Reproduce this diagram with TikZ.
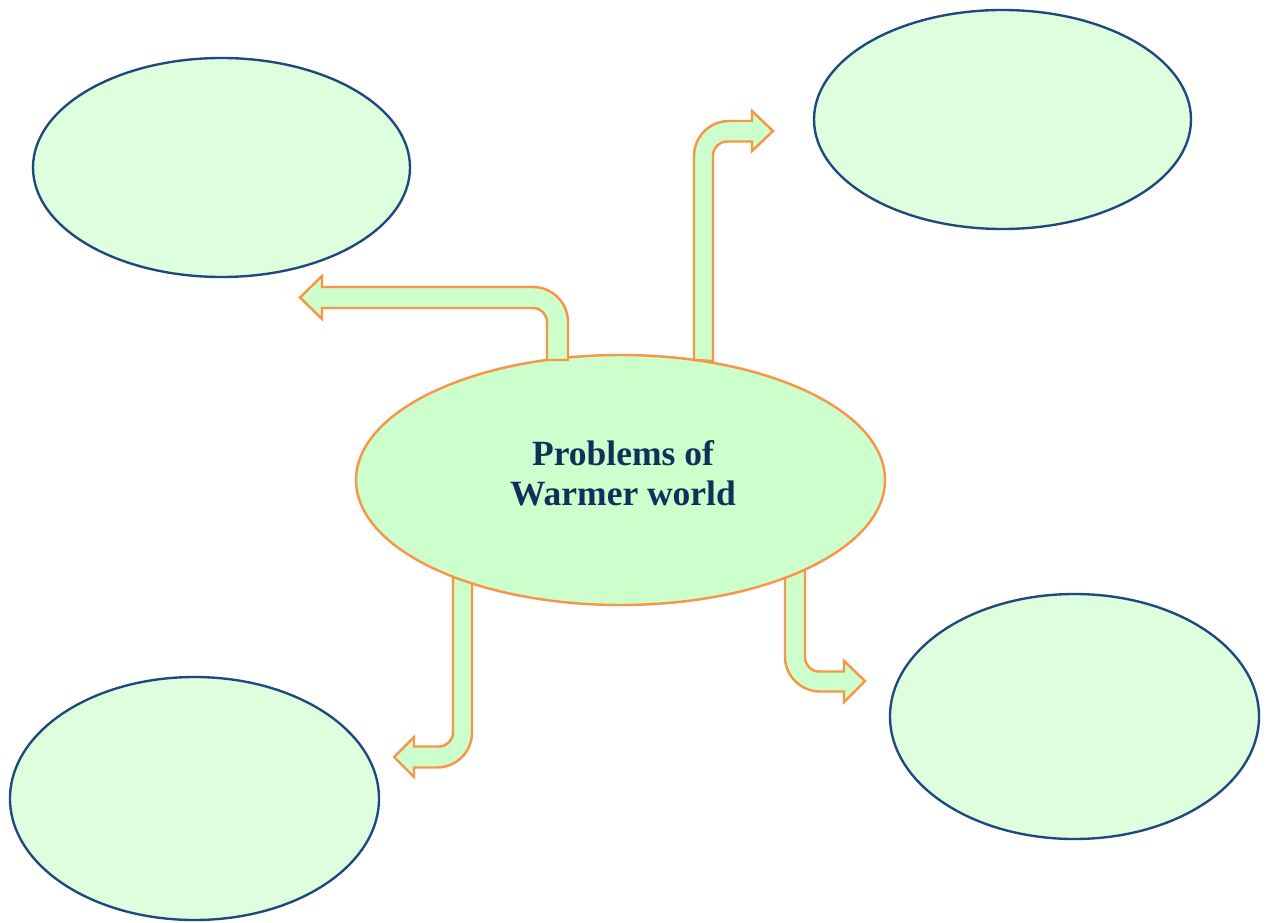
\documentclass[tikz,border=0pt]{standalone}
\usepackage{fontspec}
\setmainfont{Liberation Serif}
\definecolor{outerfill}{HTML}{DDFFDD}
\definecolor{outerline}{HTML}{1F497D}
\definecolor{centerfill}{HTML}{CCFFCC}
\definecolor{orangeline}{HTML}{F79646}
\definecolor{titletext}{HTML}{10305A}
\begin{document}
\begin{tikzpicture}[x=0.02cm,y=-0.02cm,
  outerell/.style={draw=outerline,fill=outerfill,line width=1.35pt},
  centerell/.style={draw=orangeline,fill=centerfill,line width=1.4pt},
  bentarrow/.style={draw=orangeline,fill=centerfill,line width=1.4pt,line join=miter}]
\useasboundingbox (0,0) rectangle (1266,922);

% outer ellipses
\path[outerell] (221.5,167.5) ellipse [x radius=188.5, y radius=109.5];
\node (tl) at (221.5,167.5) {};
\path[outerell] (1002.5,119.5) ellipse [x radius=188.5, y radius=109.5];
\node (tr) at (1002.5,119.5) {};
\path[outerell] (194.5,798.5) ellipse [x radius=184.5, y radius=121.5];
\node (bl) at (194.5,798.5) {};
\path[outerell] (1074.5,716.5) ellipse [x radius=184.5, y radius=122.5];
\node (br) at (1074.5,716.5) {};

% bottom arrows (drawn under the centre ellipse)
\path[bentarrow] (453,560) -- (453,732.5) arc[start angle=0, end angle=90, radius=14]
  -- (414,746.5) -- (414,737) -- (394,757) -- (414,777) -- (414,767.5)
  -- (437,767.5) arc[start angle=90, end angle=0, radius=35] -- (472,560) -- cycle;
\path[bentarrow] (805,560) -- (805,657.5) arc[start angle=180, end angle=90, radius=14]
  -- (844,671.5) -- (844,661) -- (865,681) -- (844,702) -- (844,691.5)
  -- (820,691.5) arc[start angle=90, end angle=180, radius=35] -- (785,560) -- cycle;

% centre ellipse
\path[centerell] (620.5,480) ellipse [x radius=264.5, y radius=125];
\node[font=\bfseries\fontsize{20.2}{22.8}\selectfont, text=titletext, align=center] (c) at (623,473) {Problems of\\Warmer world};

% top arrows
\path[bentarrow] (547,360) -- (547,322) arc[start angle=0, end angle=-90, radius=14]
  -- (322,308) -- (322,319) -- (300,297.5) -- (322,276) -- (322,287)
  -- (533,287) arc[start angle=-90, end angle=0, radius=35] -- (568,360) -- cycle;
\path[bentarrow] (713,361) -- (713,155.5) arc[start angle=180, end angle=270, radius=14]
  -- (752,141.5) -- (752,151) -- (773,131) -- (752,111) -- (752,121)
  -- (729,121) arc[start angle=270, end angle=180, radius=35] -- (694,360) -- cycle;
\end{tikzpicture}
\end{document}
